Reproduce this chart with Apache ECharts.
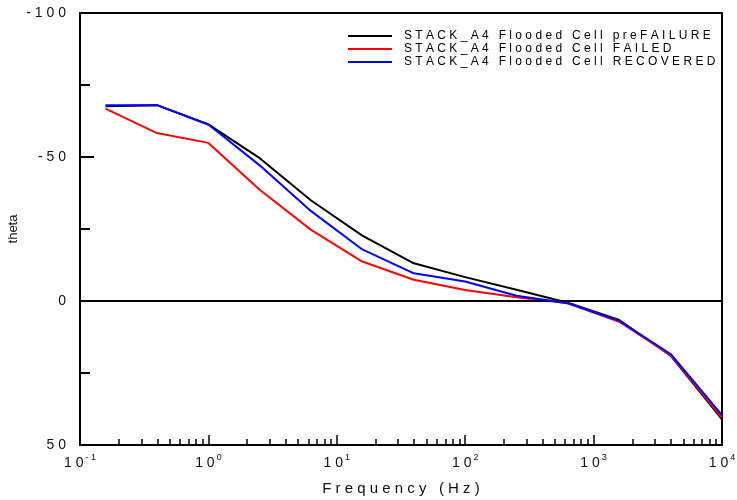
<!DOCTYPE html>
<html>
<head>
<meta charset="utf-8">
<script src="https://cdn.jsdelivr.net/npm/echarts@6/dist/echarts.min.js"></script>
<style>html,body{margin:0;padding:0;background:#fff}#c{width:737px;height:500px}</style>
</head>
<body>
<div id="c"></div>
<script>
var frequency = [0.158, 0.398, 1, 2.51, 6.31, 15.8, 39.8, 100, 251, 631, 1585, 3981, 10000];
var thetaPreFailure = [-67.6, -68.0, -61.3, -49.6, -34.9, -22.7, -13.1, -8.3, -3.9, 0.6, 6.6, 19.0, 41.1];
var thetaFailed = [-66.8, -58.3, -54.9, -38.6, -24.7, -13.7, -7.4, -3.8, -1.3, 0.8, 7.2, 18.8, 40.5];
var thetaRecovered = [-68.0, -68.0, -61.3, -47.1, -31.2, -17.9, -9.6, -6.8, -1.8, 0.8, 6.9, 18.4, 39.6];
var seriesNames = ['STACK_A4 Flooded Cell preFAILURE', 'STACK_A4 Flooded Cell FAILED', 'STACK_A4 Flooded Cell RECOVERED'];
var seriesColors = ['#000000', '#ff0000', '#0000ff'];
var xMajorTicks = [0.1, 1, 10, 100, 1000, 10000];
var xMinorTicks = [0.2,0.3,0.4,0.5,0.6,0.7,0.8,0.9, 2,3,4,5,6,7,8,9, 20,30,40,50,60,70,80,90, 200,300,400,500,600,700,800,900, 2000,3000,4000,5000,6000,7000,8000,9000];
var yTicks = [-100, -50, 0, 50];

function spaced(s){ return String(s).split('').join(' '); }
function pairs(ys){ return frequency.map(function(f,i){ return [f, ys[i]]; }); }

var chart = echarts.init(document.getElementById('c'), null, {renderer:'canvas'});
var font = 'Liberation Sans, Arial, sans-serif';
var dataSets = [thetaPreFailure, thetaFailed, thetaRecovered];
var series = dataSets.map(function(d, i){
  var s = {
    name: seriesNames[i], type:'line', data: pairs(d), xAxisIndex:0, yAxisIndex:0,
    symbol:'none', showSymbol:false, lineStyle:{color:seriesColors[i], width:2}, itemStyle:{color:seriesColors[i]},
    z: 3 + i
  };
  if (i === 0) {
    s.markLine = {silent:true, symbol:['none','none'], label:{show:false}, animation:false,
      lineStyle:{color:'#000', width:2, type:'solid'}, data:[{yAxis:0}]};
  }
  return s;
});

chart.setOption({
  animation:false,
  backgroundColor:'#fff',
  textStyle:{fontFamily:font},
  grid:{left:80, right:15, top:13, bottom:55, outerBoundsMode:'none', containLabel:false, show:true, borderColor:'#000', borderWidth:2, backgroundColor:'transparent'},
  legend:{
    orient:'vertical', left:343, top:25, itemWidth:44, itemHeight:12, itemGap:1,
    icon:'path://M0,5 L44,5 L44,7 L0,7 Z',
    data: seriesNames.map(function(n,i){ return {name:n, itemStyle:{color:seriesColors[i]}}; }),
    formatter: function(n){ return spaced(n); },
    textStyle:{fontFamily:font, fontSize:12, color:'#000', padding:[0,0,0,7]}
  },
  xAxis:[{
    type:'log', logBase:10, min:0.1, max:10000,
    name: spaced('Frequency (Hz)'), nameLocation:'middle', nameGap:36, nameMoveOverlap:false,
    nameTextStyle:{fontFamily:font, fontSize:15, color:'#111'},
    axisLine:{show:true, onZero:false, lineStyle:{color:'#000', width:2}},
    axisTick:{show:true, inside:true, length:10, lineStyle:{color:'#000', width:1.5}, customValues:xMajorTicks},
    axisLabel:{show:true, margin:8, customValues:xMajorTicks,
      formatter:function(v){ var e = Math.round(Math.log(v)/Math.LN10); return '{b|1 0}{s|' + spaced(e) + '}'; },
      rich:{ b:{fontFamily:font, fontSize:14, color:'#111'}, s:{fontFamily:font, fontSize:9, color:'#111', padding:[0,0,11,2]} }
    },
    splitLine:{show:false}, minorTick:{show:false}, minorSplitLine:{show:false}
  },{
    type:'log', logBase:10, min:0.1, max:10000, position:'bottom',
    axisLine:{show:false, onZero:false}, axisLabel:{show:false}, splitLine:{show:false},
    axisTick:{show:true, inside:true, length:6, lineStyle:{color:'#000', width:1.5}, customValues:xMinorTicks}
  }],
  yAxis:{
    type:'value', inverse:true, min:-100, max:50, interval:50,
    name:'theta', nameLocation:'middle', nameGap:60, nameRotate:90, nameMoveOverlap:false,
    nameTextStyle:{fontFamily:font, fontSize:13, color:'#111'},
    axisLine:{show:true, onZero:false, lineStyle:{color:'#000', width:2}},
    axisTick:{show:true, inside:true, length:14, lineStyle:{color:'#000', width:2}},
    minorTick:{show:true, splitNumber:2, length:10, lineStyle:{color:'#000', width:2}},
    axisLabel:{show:true, margin:14, fontFamily:font, fontSize:14, color:'#111', customValues:yTicks,
      formatter:function(v){ return spaced(v); }},
    splitLine:{show:false}
  },
  series: series
});
</script>
</body>
</html>
